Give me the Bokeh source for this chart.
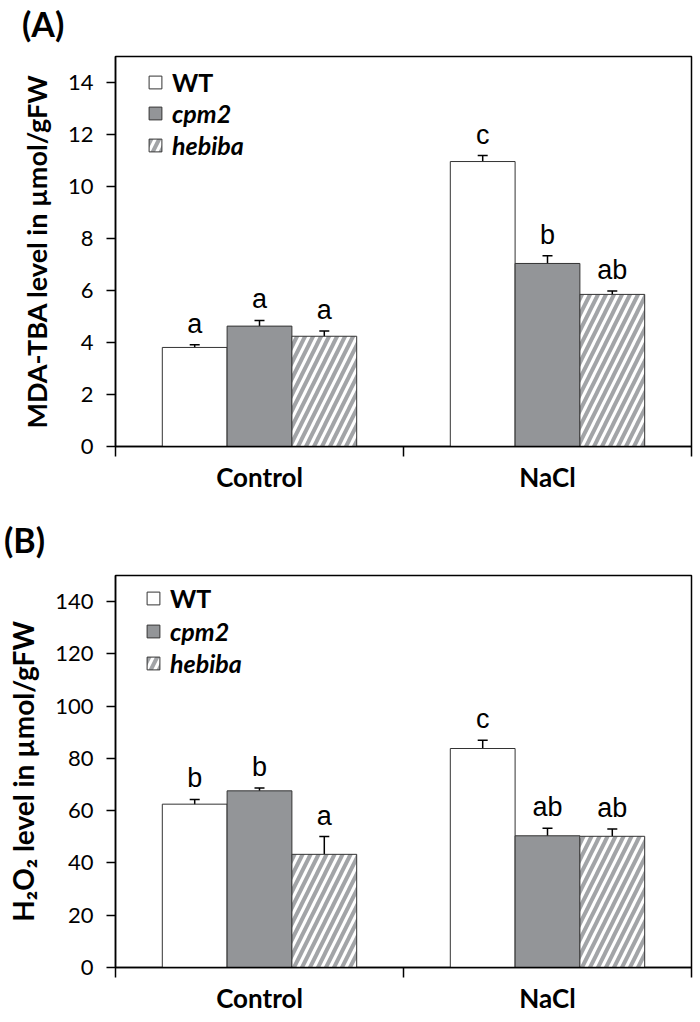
from bokeh.plotting import figure
from bokeh.models import (ColumnDataSource, Whisker, TeeHead, FixedTicker, Legend,
                          LegendItem, Range1d, Div)
from bokeh.layouts import column
from bokeh.embed import file_html
from bokeh.resources import INLINE
from bokeh.core.properties import value

categories = ["Control", "NaCl"]
genotypes = ["WT", "cpm2", "hebiba"]

# Panel A: MDA-TBA (umol/gFW)
mda_wt = [3.81, 10.96]
mda_wt_err = [0.10, 0.23]
mda_cpm2 = [4.63, 7.04]
mda_cpm2_err = [0.22, 0.30]
mda_hebiba = [4.24, 5.85]
mda_hebiba_err = [0.20, 0.13]
mda_letters_wt = ["a", "c"]
mda_letters_cpm2 = ["a", "b"]
mda_letters_hebiba = ["a", "ab"]
mda_ticks = [0, 2, 4, 6, 8, 10, 12, 14]

# Panel B: H2O2 (umol/gFW)
h2o2_wt = [62.5, 83.8]
h2o2_wt_err = [1.8, 3.2]
h2o2_cpm2 = [67.6, 50.4]
h2o2_cpm2_err = [1.1, 2.9]
h2o2_hebiba = [43.3, 50.2]
h2o2_hebiba_err = [6.8, 2.8]
h2o2_letters_wt = ["b", "c"]
h2o2_letters_cpm2 = ["b", "ab"]
h2o2_letters_hebiba = ["a", "ab"]
h2o2_ticks = [0, 20, 40, 60, 80, 100, 120, 140]

LABEL_FONT = "Lato"
LETTER_FONT = "Liberation Sans"
BAR_W = 0.225
FILLS = {"WT": "white", "cpm2": "#939598", "hebiba": "white"}


def make_title(text, height, pad_left, pad_top):
    return Div(text=text, width=700, height=height, margin=(0, 0, 0, 0),
               styles={"font-family": LABEL_FONT, "font-size": "34px",
                       "font-weight": "bold", "color": "black",
                       "line-height": "40px", "padding-left": f"{pad_left}px",
                       "padding-top": f"{pad_top}px", "box-sizing": "border-box"})


def make_panel(ylabel, ylabel_size, ymax, ticks, series, width, height,
               border_left, border_top, border_bottom, border_right,
               leg1_pos, leg2_pos):
    p = figure(width=width, height=height, output_backend="svg", toolbar_location=None,
               x_range=Range1d(0, 2), y_range=Range1d(0, ymax),
               min_border_left=border_left, min_border_top=border_top,
               min_border_bottom=border_bottom, min_border_right=border_right)
    p.background_fill_color = None
    p.border_fill_color = None
    p.xgrid.visible = False
    p.ygrid.visible = False
    p.outline_line_color = "black"
    p.outline_line_width = 1.5

    renderers = {}
    for j, (g, vals, errs, letters) in enumerate(series):
        xs = [i + 0.5 + (j - 1) * BAR_W for i in range(len(categories))]
        src = ColumnDataSource(dict(
            x=xs, top=vals,
            upper=[v + e for v, e in zip(vals, errs)],
            lower=[v - e for v, e in zip(vals, errs)],
            letter=letters))
        kw = {}
        if g == "hebiba":
            kw = dict(hatch_pattern="/", hatch_color="#a2a4a7", hatch_weight=4,
                      hatch_scale=16)
        r = p.vbar(x="x", top="top", width=BAR_W, bottom=0, source=src,
                   fill_color=FILLS[g], line_color="#333333", line_width=1, **kw)
        renderers[g] = r
        p.add_layout(Whisker(base="x", upper="upper", lower="lower", source=src,
                             line_color="black", line_width=1.5,
                             upper_head=TeeHead(size=10, line_width=1.5, line_color="black"),
                             lower_head=TeeHead(size=10, line_width=1.5, line_color="black")))
        p.text(x="x", y="upper", text="letter", source=src, text_align="center",
               text_baseline="alphabetic", y_offset=-21, text_font=value(LETTER_FONT),
               text_font_size="27px", text_color="black")

    # axes
    yax = p.yaxis[0]
    yax.ticker = FixedTicker(ticks=ticks, minor_ticks=[])
    yax.major_tick_out = 9
    yax.major_tick_in = 0
    yax.major_tick_line_width = 1.5
    yax.major_tick_line_color = "black"
    yax.axis_line_width = 1.5
    yax.axis_line_color = "black"
    yax.major_label_text_font = LABEL_FONT
    yax.major_label_text_font_size = "22px"
    yax.major_label_text_color = "black"
    yax.major_label_standoff = 13
    yax.axis_label = ylabel
    yax.axis_label_text_font = LABEL_FONT
    yax.axis_label_text_font_size = ylabel_size
    yax.axis_label_text_font_style = "bold"
    yax.axis_label_text_color = "black"
    yax.axis_label_standoff = 12

    xax = p.xaxis[0]
    xax.ticker = FixedTicker(ticks=[i + 0.5 for i in range(len(categories))],
                             minor_ticks=list(range(len(categories) + 1)))
    xax.major_label_overrides = {i + 0.5: c for i, c in enumerate(categories)}
    xax.major_tick_out = 0
    xax.major_tick_in = 0
    xax.minor_tick_out = 10
    xax.minor_tick_in = 0
    xax.minor_tick_line_width = 1.5
    xax.minor_tick_line_color = "black"
    xax.axis_line_width = 1.5
    xax.axis_line_color = "black"
    xax.major_label_text_font = LABEL_FONT
    xax.major_label_text_font_size = "26px"
    xax.major_label_text_font_style = "bold"
    xax.major_label_text_color = "black"
    xax.major_label_standoff = 4

    def add_legend(items, pos, style):
        leg = Legend(items=items, location=pos, orientation="vertical")
        leg.background_fill_alpha = 0
        leg.border_line_alpha = 0
        leg.padding = 0
        leg.margin = 0
        leg.spacing = 0
        leg.glyph_width = 16
        leg.glyph_height = 16
        leg.label_height = 32
        leg.label_standoff = 9
        leg.label_text_font = LABEL_FONT
        leg.label_text_font_size = "25px"
        leg.label_text_font_style = style
        leg.label_text_color = "black"
        leg.label_text_baseline = "middle"
        p.add_layout(leg)

    add_legend([LegendItem(label="WT", renderers=[renderers["WT"]])], leg1_pos, "bold")
    add_legend([LegendItem(label="cpm2", renderers=[renderers["cpm2"]]),
                LegendItem(label="hebiba", renderers=[renderers["hebiba"]])],
               leg2_pos, "bold italic")
    return p


title_a = make_title("(A)", 40, 22, 4)
pa = make_panel("MDA-TBA level in µmol/gFW", "27px", 15, mda_ticks,
                [("WT", mda_wt, mda_wt_err, mda_letters_wt),
                 ("cpm2", mda_cpm2, mda_cpm2_err, mda_letters_cpm2),
                 ("hebiba", mda_hebiba, mda_hebiba_err, mda_letters_hebiba)],
                width=700, height=473, border_left=115, border_top=16,
                border_bottom=67, border_right=9,
                leg1_pos=(32, 348), leg2_pos=(32, 285))

title_b = make_title("(B)", 40, 4, 7)
pb = make_panel("H₂O₂ level in µmol/gFW", "28px", 150, h2o2_ticks,
                [("WT", h2o2_wt, h2o2_wt_err, h2o2_letters_wt),
                 ("cpm2", h2o2_cpm2, h2o2_cpm2_err, h2o2_letters_cpm2),
                 ("hebiba", h2o2_hebiba, h2o2_hebiba_err, h2o2_letters_hebiba)],
                width=700, height=467, border_left=110, border_top=22,
                border_bottom=53, border_right=7,
                leg1_pos=(30, 353), leg2_pos=(30, 288))

layout = column(title_a, pa, title_b, pb, spacing=0)
open("out.html", "w").write(file_html(layout, INLINE))
